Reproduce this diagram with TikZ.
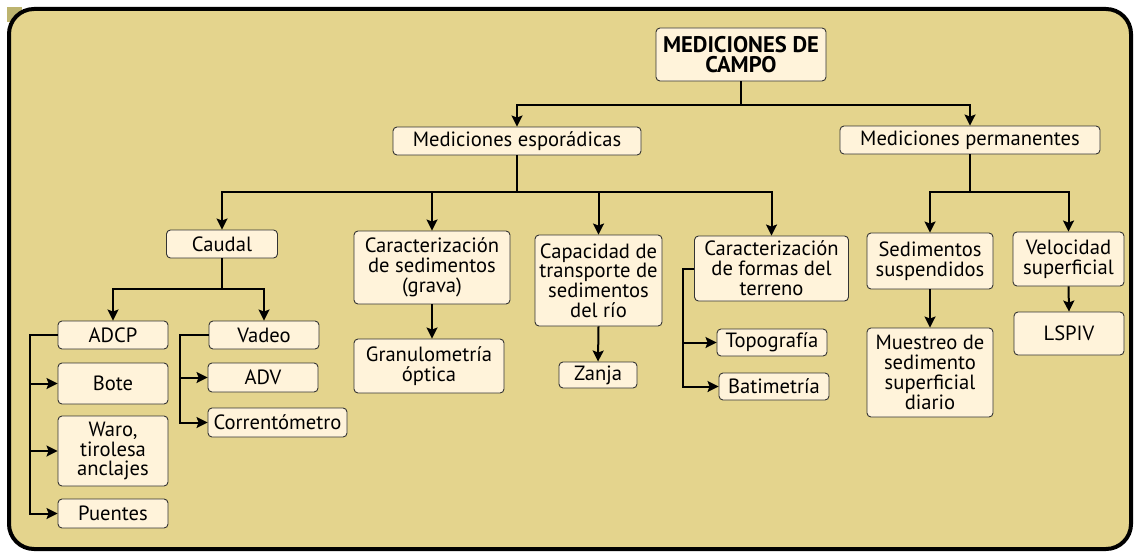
\documentclass[tikz,border=0pt]{standalone}
\usepackage{fontspec}
\setmainfont{PT Sans}
\usetikzlibrary{arrows.meta,calc}
\definecolor{marco}{HTML}{E4D48D}
\definecolor{caja}{HTML}{FFF3DA}
\definecolor{olivo}{HTML}{BDB46F}
\newcommand{\grosor}{2pt}

\begin{document}
\begin{tikzpicture}[x=1pt,y=-1pt,
  box/.style={draw=black!80, fill=caja, rounded corners=4pt, line width=0.9pt,
    align=center, inner sep=0pt, font=\fontsize{20.6}{19.8}\selectfont},
  sz/.style 2 args={minimum width=#1, minimum height=#2},
  tree/.style={line width=\grosor},
  arr/.style={tree, -{Stealth[length=11pt,width=11pt,inset=2pt]}}]
\useasboundingbox (0,0) rectangle (1134,551);
% frame
\fill[olivo] (7,7) rectangle (22,22);
\draw[line width=4pt, fill=marco, rounded corners=25pt] (9,9) rectangle (1131,549);
% level 0 and 1
\node[box, sz={170}{53}, font=\fontsize{22.6}{20.5}\selectfont\bfseries] (root) at (741,54.5) {MEDICIONES DE\\CAMPO};
\node[box, sz={248}{28}] (espor) at (517,141) {Mediciones esporádicas};
\node[box, sz={260}{28}] (perm) at (970,140) {Mediciones permanentes};
% level 2
\node[box, sz={111}{28}] (caudal) at (222,244) {Caudal};
\node[box, sz={156}{73}] (carsed) at (432,267.5) {Caracterización\\de sedimentos\\(grava)};
\node[box, sz={127}{91}] (capac) at (598.5,280.5) {Capacidad de\\transporte de\\sedimentos\\del río};
\node[box, sz={154}{65}] (forma) at (771.5,268.5) {Caracterización\\de formas del\\terreno};
\node[box, sz={126}{56}] (sedsus) at (930,261) {Sedimentos\\suspendidos};
\node[box, sz={111}{54}] (veloc) at (1068.5,259) {Velocidad\\superficial};
% level 3
\node[box, sz={110}{28}] (adcp) at (113,335) {ADCP};
\node[box, sz={110}{41}] (bote) at (113,383.5) {Bote};
\node[box, sz={110}{70}] (waro) at (113,451) {Waro,\\tirolesa\\anclajes};
\node[box, sz={110}{29}] (puentes) at (113,513.5) {Puentes};
\node[box, sz={110}{28}] (vadeo) at (264,335) {Vadeo};
\node[box, sz={110}{29}] (adv) at (263,377.5) {ADV};
\node[box, sz={139}{29}] (corr) at (277.5,422.5) {Correntómetro};
\node[box, sz={150}{54}] (granu) at (429,366) {Granulometría\\óptica};
\node[box, sz={78}{26}] (zanja) at (598,375) {Zanja};
\node[box, sz={110}{27}] (topo) at (772,342.5) {Topografía};
\node[box, sz={110}{27}] (bati) at (774,386.5) {Batimetría};
\node[box, sz={126}{89}] (muest) at (930,372.5) {Muestreo de\\sedimento\\superficial\\diario};
\node[box, sz={110}{43}] (lspiv) at (1069,333.5) {LSPIV};
% buses
\coordinate (b1) at (0,105);
\coordinate (b2) at (0,192);
\coordinate (b3) at (0,289);
\coordinate (s1) at (30,0);
\coordinate (s2) at (180,0);
\coordinate (s3) at (683,0);
% connectors
\draw[tree] (root.south) -- (root.south |- b1);
\draw[arr] (root.south |- b1) -| (espor.north);
\draw[arr] (root.south |- b1) -| (perm.north);
\draw[tree] (espor.south) -- (espor.south |- b2);
\foreach \n in {caudal,carsed,capac,forma}
  \draw[arr] (espor.south |- b2) -| (\n.north);
\draw[tree] (perm.south) -- (perm.south |- b2);
\foreach \n in {sedsus,veloc}
  \draw[arr] (perm.south |- b2) -| (\n.north);
\draw[tree] (caudal.south) -- (caudal.south |- b3);
\foreach \n in {adcp,vadeo}
  \draw[arr] (caudal.south |- b3) -| (\n.north);
\draw[arr] (adcp.west) -- (adcp.west -| s1) |- (puentes.west);
\foreach \n in {bote,waro}
  \draw[arr] (\n.west -| s1) -- (\n.west);
\draw[arr] (vadeo.west) -- (vadeo.west -| s2) |- (corr.west);
\draw[arr] (adv.west -| s2) -- (adv.west);
\draw[arr] (forma.west) -- (forma.west -| s3) |- (bati.west);
\draw[arr] (topo.west -| s3) -- (topo.west);
\draw[arr] (carsed.south) -- (carsed.south |- granu.north);
\draw[arr] (capac.south) -- (zanja.north);
\draw[arr] (sedsus.south) -- (muest.north);
\draw[arr] (veloc.south) -- (lspiv.north);
\end{tikzpicture}
\end{document}
